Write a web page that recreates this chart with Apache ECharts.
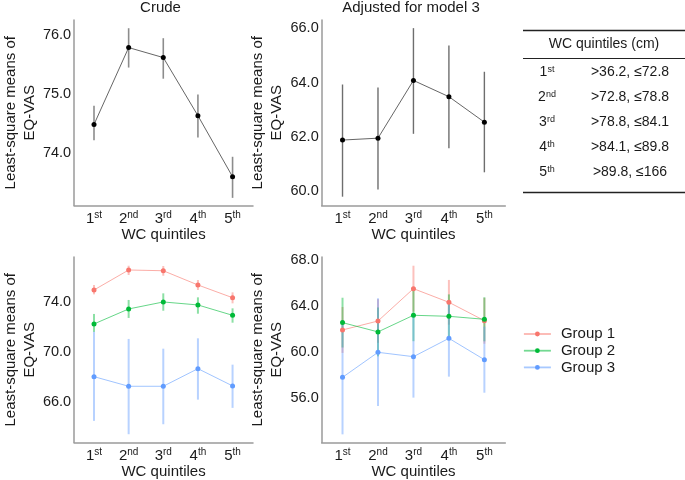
<!DOCTYPE html>
<html>
<head>
<meta charset="utf-8">
<script src="https://cdn.jsdelivr.net/npm/echarts@6/dist/echarts.min.js"></script>
<style>html,body{margin:0;padding:0;background:#fff}#c{width:685px;height:480px}</style>
</head>
<body>
<div id="c"></div>
<script>
// ---- data ----
const categories = ['1st', '2nd', '3rd', '4th', '5th'];
const quintileRanges = ['>36.2, \u226472.8', '>72.8, \u226478.8', '>78.8, \u226484.1', '>84.1, \u226489.8', '>89.8, \u2264166'];
const tableTitle = 'WC quintiles (cm)';
const groupNames = ['Group 1', 'Group 2', 'Group 3'];

// Crude (overall)
const crudeMean = [74.48, 75.79, 75.62, 74.63, 73.59];
const crudeLow  = [74.21, 75.45, 75.26, 74.26, 73.23];
const crudeHigh = [74.80, 76.12, 75.95, 74.99, 73.93];

// Adjusted for model 3 (overall)
const adjMean = [61.88, 61.95, 64.08, 63.48, 62.54];
const adjLow  = [59.79, 60.06, 62.11, 61.58, 60.69];
const adjHigh = [63.93, 63.82, 66.01, 65.37, 64.40];

// Crude by group
const g1CrudeMean = [74.94, 76.54, 76.48, 75.34, 74.32];
const g1CrudeLow  = [74.59, 76.14, 76.08, 74.94, 73.87];
const g1CrudeHigh = [75.34, 76.88, 76.86, 75.74, 74.75];
const g2CrudeMean = [72.22, 73.42, 73.98, 73.74, 72.91];
const g2CrudeLow  = [71.58, 72.70, 73.28, 73.04, 72.32];
const g2CrudeHigh = [73.02, 74.14, 74.67, 74.35, 73.47];
const g3CrudeMean = [68.00, 67.23, 67.23, 68.64, 67.26];
const g3CrudeLow  = [64.46, 63.39, 64.19, 66.16, 65.50];
const g3CrudeHigh = [71.60, 71.02, 70.24, 71.07, 68.96];

// Adjusted by group
const g1AdjMean = [61.90, 62.68, 65.50, 64.31, 62.71];
const g1AdjLow  = [59.90, 60.78, 63.50, 62.36, 60.70];
const g1AdjHigh = [63.90, 64.58, 67.50, 66.26, 64.70];
const g2AdjMean = [62.54, 61.73, 63.18, 63.09, 62.83];
const g2AdjLow  = [60.37, 59.60, 60.92, 61.18, 60.91];
const g2AdjHigh = [64.71, 63.86, 65.44, 65.00, 64.75];
const g3AdjMean = [57.77, 59.95, 59.57, 61.17, 59.31];
const g3AdjLow  = [52.80, 55.27, 56.00, 57.83, 56.43];
const g3AdjHigh = [62.74, 64.66, 63.14, 64.51, 62.19];

// y tick labels per panel
const crudeTicks = [74, 75, 76];
const adjTicks = [60, 62, 64, 66];
const groupCrudeTicks = [66, 70, 74];
const groupAdjTicks = [56, 60, 64, 68];

// ---- styling/helpers ----
const FONT = 'Liberation Sans, Arial, sans-serif';
const TXT = '#1a1a1a';
const AXIS = '#9a9a9a';
const groupColors = ['#F8766D', '#00BA38', '#619CFF'];

const chart = echarts.init(document.getElementById('c'), null, {renderer: 'canvas'});

const idx = [1, 2, 3, 4, 5];
function pts(mean) { return mean.map((v, i) => [idx[i], v]); }
function bars(lo, hi) { return lo.map((v, i) => [idx[i], v, hi[i]]); }

function errSeries(gi, lo, hi, color, width, opacity) {
  return {
    type: 'custom', xAxisIndex: gi, yAxisIndex: gi, silent: true, z: 2,
    data: bars(lo, hi),
    encode: {x: 0, y: [1, 2]},
    renderItem: function (params, api) {
      const x = api.value(0);
      const a = api.coord([x, api.value(1)]);
      const b = api.coord([x, api.value(2)]);
      return {type: 'line', shape: {x1: a[0], y1: a[1], x2: b[0], y2: b[1]},
        style: {stroke: color, lineWidth: width, opacity: opacity}};
    }
  };
}
function lineSeries(gi, name, mean, lineColor, ptColor, lineOpacity, lw) {
  return {
    type: 'line', name: name, xAxisIndex: gi, yAxisIndex: gi, z: 3,
    data: pts(mean), symbol: 'circle', symbolSize: 5, showSymbol: true,
    lineStyle: {color: lineColor, width: lw, opacity: lineOpacity},
    itemStyle: {color: ptColor},
    emphasis: {disabled: true}, animation: false
  };
}

const grids = [
  {left: 68.5, top: 20, width: 184.5, height: 185.5},
  {left: 321.7, top: 20, width: 183.6, height: 185.5},
  {left: 68.5, top: 257, width: 184.5, height: 185.7},
  {left: 321.7, top: 257, width: 183.6, height: 185.7}
];
const xRanges = [[0.426, 5.59], [0.413, 5.59], [0.426, 5.59], [0.413, 5.59]];
const yRanges = [[73.1, 76.26], [59.465, 66.31], [62.72, 77.58], [52.08, 68.26]];
const yTicks = [crudeTicks, adjTicks, groupCrudeTicks, groupAdjTicks];
const nameGaps = [33, 35.5, 33, 35.5];

const xAxes = grids.map((g, i) => ({
  type: 'value', gridIndex: i, min: xRanges[i][0], max: xRanges[i][1],
  axisLine: {show: true, lineStyle: {color: AXIS, width: 1.5}},
  axisTick: {show: false}, splitLine: {show: false},
  axisLabel: {
    customValues: idx, margin: 5,
    formatter: function (v) {
      const c = categories[Math.round(v) - 1];
      if (!c) return '';
      return '{n|' + c[0] + '}{s|' + c.slice(1) + '}';
    },
    rich: {
      n: {fontSize: 15, fontFamily: FONT, color: TXT, lineHeight: 16},
      s: {fontSize: 10, fontFamily: FONT, color: TXT, verticalAlign: 'top', lineHeight: 12}
    }
  },
  name: 'WC quintiles', nameLocation: 'middle', nameGap: 21,
  nameTextStyle: {fontSize: 15, fontFamily: FONT, color: TXT}
}));

const yAxes = grids.map((g, i) => ({
  type: 'value', gridIndex: i, min: yRanges[i][0], max: yRanges[i][1],
  axisLine: {show: true, lineStyle: {color: AXIS, width: 1.5}},
  axisTick: {show: false}, splitLine: {show: false},
  axisLabel: {
    customValues: yTicks[i], margin: 3,
    formatter: v => v.toFixed(1),
    fontSize: 14.5, fontFamily: FONT, color: TXT
  },
  name: 'Least-square means of\nEQ-VAS', nameLocation: 'middle', nameRotate: 90,
  nameGap: nameGaps[i],
  nameTextStyle: {fontSize: 15, fontFamily: FONT, color: TXT, lineHeight: 19}
}));

const series = [];
// panel 0: crude
series.push(errSeries(0, crudeLow, crudeHigh, '#8c8c8c', 1.6, 1));
series.push(lineSeries(0, 'Crude', crudeMean, '#666666', '#000000', 1, 1));
// panel 1: adjusted
series.push(errSeries(1, adjLow, adjHigh, '#6e6e6e', 1.4, 1));
series.push(lineSeries(1, 'Adjusted', adjMean, '#666666', '#000000', 1, 1));
// panel 2/3: by group
const gcLow = [g1CrudeLow, g2CrudeLow, g3CrudeLow];
const gcHigh = [g1CrudeHigh, g2CrudeHigh, g3CrudeHigh];
const gcMean = [g1CrudeMean, g2CrudeMean, g3CrudeMean];
const gaLow = [g1AdjLow, g2AdjLow, g3AdjLow];
const gaHigh = [g1AdjHigh, g2AdjHigh, g3AdjHigh];
const gaMean = [g1AdjMean, g2AdjMean, g3AdjMean];
for (let k = 0; k < 3; k++) series.push(errSeries(2, gcLow[k], gcHigh[k], groupColors[k], 2, 0.45));
for (let k = 0; k < 3; k++) series.push(lineSeries(2, groupNames[k], gcMean[k], groupColors[k], groupColors[k], 0.6, 1));
for (let k = 0; k < 3; k++) series.push(errSeries(3, gaLow[k], gaHigh[k], groupColors[k], 2, 0.45));
for (let k = 0; k < 3; k++) series.push(lineSeries(3, groupNames[k], gaMean[k], groupColors[k], groupColors[k], 0.6, 1));

// table graphic
const graphic = [];
const tblX1 = 523, tblX2 = 685, colA = 547, colB = 630;
graphic.push({type: 'line', shape: {x1: tblX1, y1: 30.5, x2: tblX2, y2: 30.5}, style: {stroke: '#222', lineWidth: 1.3}});
graphic.push({type: 'text', x: 604, y: 44.5, style: {text: tableTitle, fontSize: 14, fontFamily: FONT, fill: TXT, align: 'center', verticalAlign: 'middle'}});
graphic.push({type: 'line', shape: {x1: tblX1, y1: 58.5, x2: tblX2, y2: 58.5}, style: {stroke: '#222', lineWidth: 1}});
const rowY = [72.5, 97.5, 122.5, 147.5, 172.5];
categories.forEach((c, i) => {
  graphic.push({type: 'text', x: colA, y: rowY[i], style: {
    text: '{n|' + c[0] + '}{s|' + c.slice(1) + '}', align: 'center', verticalAlign: 'middle',
    rich: {n: {fontSize: 14, fontFamily: FONT, fill: TXT, lineHeight: 15},
           s: {fontSize: 9, fontFamily: FONT, fill: TXT, verticalAlign: 'top', lineHeight: 11}}
  }});
  graphic.push({type: 'text', x: colB, y: rowY[i], style: {text: quintileRanges[i], fontSize: 14, fontFamily: FONT, fill: TXT, align: 'center', verticalAlign: 'middle'}});
});
graphic.push({type: 'line', shape: {x1: tblX1, y1: 192.5, x2: tblX2, y2: 192.5}, style: {stroke: '#222', lineWidth: 1.3}});

chart.setOption({
  animation: false,
  backgroundColor: '#ffffff',
  title: [
    {text: 'Crude', left: 160.5, top: 0, padding: 0, textAlign: 'center',
     textStyle: {fontSize: 15, fontWeight: 'normal', fontFamily: FONT, color: TXT}},
    {text: 'Adjusted for model 3', left: 411, top: 0, padding: 0, textAlign: 'center',
     textStyle: {fontSize: 15, fontWeight: 'normal', fontFamily: FONT, color: TXT}}
  ],
  legend: {
    data: groupNames, orient: 'vertical', left: 523, top: 326.5, padding: 0,
    itemWidth: 27, itemHeight: 6, itemGap: 1.7,
    lineStyle: {width: 1.8, opacity: 0.55},
    textStyle: {fontSize: 15, fontFamily: FONT, color: TXT, lineHeight: 15, padding: [0, 0, 0, 5]},
    selectedMode: false
  },
  grid: grids,
  xAxis: xAxes,
  yAxis: yAxes,
  series: series,
  graphic: graphic
});
</script>
</body>
</html>
